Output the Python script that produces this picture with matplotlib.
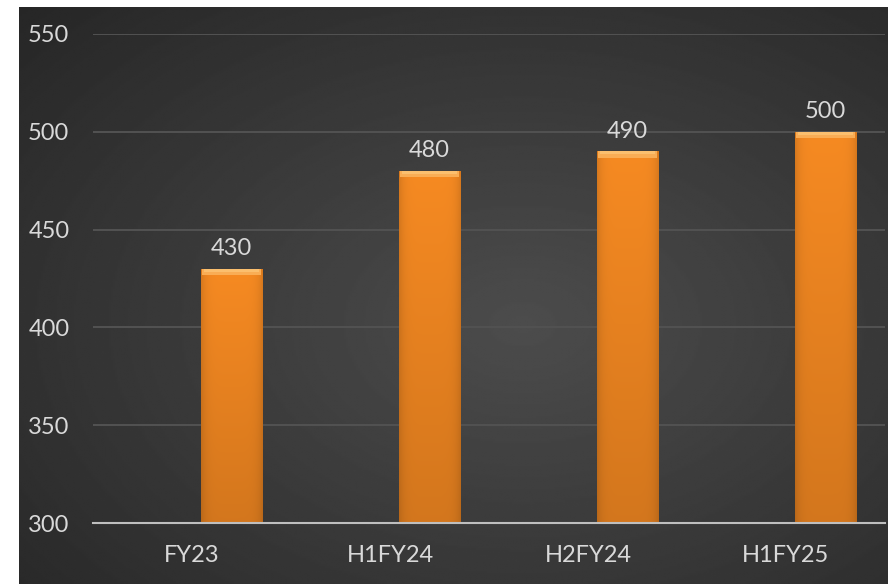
import numpy as np
import matplotlib as mpl
mpl.use('Agg')
import matplotlib.pyplot as plt
from matplotlib.colors import to_rgb

categories = ['FY23', 'H1FY24', 'H2FY24', 'H1FY25']
values = [430, 480, 490, 500]
yticks = [300, 350, 400, 450, 500, 550]

plt.rcParams['font.family'] = ['Lato', 'DejaVu Sans']

W, H = 891, 584
fig = plt.figure(figsize=(W / 100, H / 100), dpi=100)
fig.patch.set_facecolor('white')

# dark radial background panel
bg = fig.add_axes([19 / W, 0, (888 - 19) / W, (584 - 7) / H])
bg.set_axis_off()
ny, nx = 300, 450
yy, xx = np.mgrid[0:1:ny * 1j, 0:1:nx * 1j]
r = np.sqrt(((xx - 0.58) / 0.75) ** 2 + ((yy - 0.55) / 0.75) ** 2)
shade = 0.30 - 0.14 * np.clip(r, 0, 1.2)
bg.imshow(shade, cmap='gray', vmin=0, vmax=1, aspect='auto',
          extent=[0, 1, 0, 1], interpolation='bilinear')
bg.set_xlim(0, 1)
bg.set_ylim(0, 1)

ax = fig.add_axes([93 / W, (584 - 523) / H, (885 - 93) / W, (523 - 34) / H])
ax.patch.set_alpha(0)

x = np.arange(len(categories))
bw = 0.31
off = 0.20
bars = ax.bar(x + off, np.array(values) - 300, bottom=300, width=bw,
              color='#f5861f', zorder=3)

# shade each bar: darker sides, slightly darker toward the bottom
base = np.array(to_rgb('#f68a22'))
gx = np.linspace(-1, 1, 60)
gy = np.linspace(0, 1, 100)[:, None]
side = 1 - 0.12 * np.abs(gx) ** 6
vert = 0.86 + 0.14 * gy
img = base[None, None, :] * (side[None, :] * vert)[:, :, None]
img = np.clip(img, 0, 1)
for b in bars:
    x0, y0 = b.get_x(), b.get_y()
    im = ax.imshow(img, extent=[x0, x0 + b.get_width(), y0, y0 + b.get_height()],
                   origin='lower', aspect='auto', zorder=3.5, interpolation='bilinear')
    im.set_clip_path(b)

# bevel at top of each bar
bev = 3.2
ax.bar(x + off, bev, bottom=np.array(values) - bev, width=bw * 0.97,
       color='#f9ad55', zorder=4)
ax.bar(x + off, bev * 0.45, bottom=np.array(values) - bev * 0.45, width=bw * 0.9,
       color='#fbbf6e', zorder=4.1)

for xi, v in zip(x, values):
    ax.text(xi + off, v + 5, str(v), ha='center', va='bottom',
            color='#d9d9d9', fontsize=17, zorder=5)

ax.set_xlim(-0.5, len(categories) - 0.5)
ax.set_ylim(300, 550)
ax.set_yticks(yticks)
ax.set_xticks(x)
ax.set_xticklabels(categories)
ax.grid(axis='y', color='#525252', linewidth=1.4, zorder=1)
ax.set_axisbelow(True)
for s in ['top', 'right', 'left']:
    ax.spines[s].set_visible(False)
ax.spines['bottom'].set_color('#bfbfbf')
ax.spines['bottom'].set_linewidth(1.5)
ax.spines['bottom'].set_zorder(6)
ax.tick_params(axis='both', length=0, colors='#d9d9d9', labelsize=17)
ax.tick_params(axis='y', pad=17)
ax.tick_params(axis='x', pad=16)

fig.savefig('out.png', dpi=100)
